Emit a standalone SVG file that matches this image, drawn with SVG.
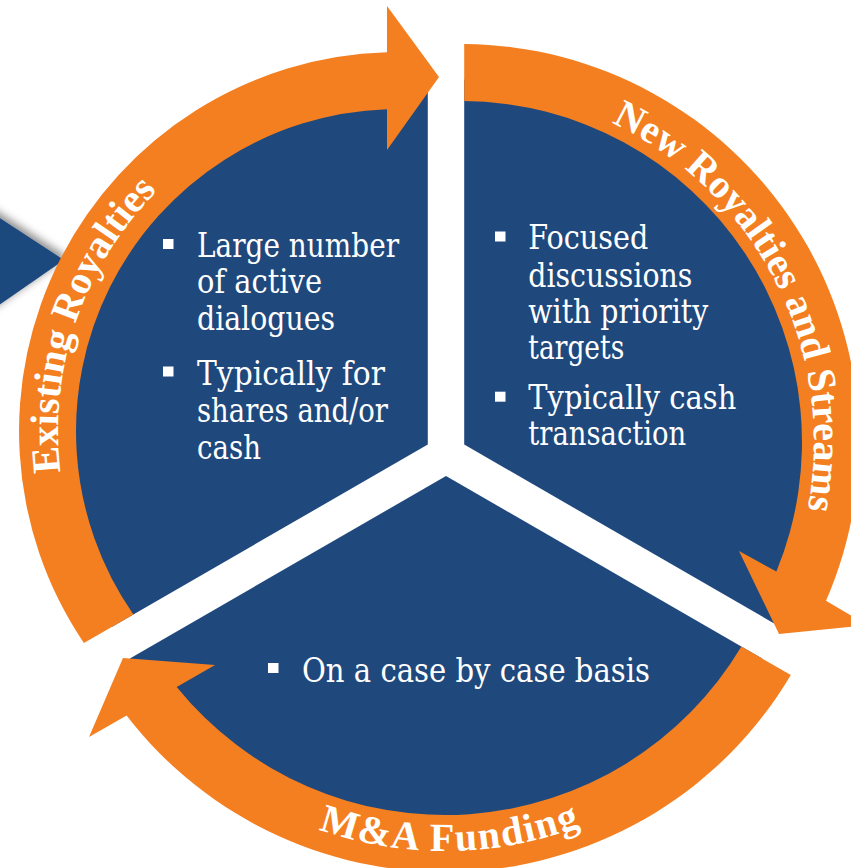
<svg xmlns="http://www.w3.org/2000/svg" width="851" height="868" viewBox="0 0 851 868">
<defs>
<style>
.sector{fill:#1F497D}
.arrow{fill:#F47F20}
.arc-label{font-family:'Liberation Serif','Times New Roman',serif;font-size:40px;font-weight:bold;fill:#ffffff}
.bullet{fill:#ffffff}
.txt{font-family:'DejaVu Serif',serif;font-size:33px;fill:#ffffff}
</style>
<filter id="shadow" x="-50%" y="-50%" width="200%" height="200%">
<feDropShadow dx="3" dy="-3" stdDeviation="4" flood-color="#000000" flood-opacity="0.45"/>
</filter>
<path id="p-existing" d="M141.4,654.1 A340,340 0 0 1 333.1,97.3" fill="none"/>
<path id="p-new" d="M418.9,91.5 A353,353 0 0 1 718.5,683.4" fill="none"/>
<path id="p-ma" d="M259.1,802.6 A381,381 0 0 0 640.1,797.3" fill="none"/>
</defs>
<rect width="851" height="868" fill="#ffffff"/>

<g id="partial-arrow">
<polygon class="sector" points="-40,192 64,260 -40,332" filter="url(#shadow)"/>
</g>

<g id="nodes">
<g id="node-existing">
<path class="sector" d="M427.8,444.5 L111.7,627 A365,365 0 0 1 427.8,79.5 Z"/>
<rect class="bullet" x="163" y="239" width="10.5" height="10"/>
<rect class="bullet" x="163" y="366.5" width="10.5" height="10"/>
<text class="txt" x="197" y="256.5" textLength="202" lengthAdjust="spacingAndGlyphs">Large number</text>
<text class="txt" x="197" y="293" textLength="125" lengthAdjust="spacingAndGlyphs">of active</text>
<text class="txt" x="197" y="329.5" textLength="138" lengthAdjust="spacingAndGlyphs">dialogues</text>
<text class="txt" x="197" y="385" textLength="188" lengthAdjust="spacingAndGlyphs">Typically for</text>
<text class="txt" x="197" y="421.5" textLength="191" lengthAdjust="spacingAndGlyphs">shares and/or</text>
<text class="txt" x="197" y="458.5" textLength="64" lengthAdjust="spacingAndGlyphs">cash</text>
</g>
<g id="node-new">
<path class="sector" d="M464.2,444.5 L464.2,79.5 A365,365 0 0 1 780.3,627 Z"/>
<rect class="bullet" x="495" y="231.5" width="10.5" height="10"/>
<rect class="bullet" x="495" y="391.7" width="10.5" height="10"/>
<text class="txt" x="528.3" y="249.3" textLength="120" lengthAdjust="spacingAndGlyphs">Focused</text>
<text class="txt" x="528.3" y="286.5" textLength="164" lengthAdjust="spacingAndGlyphs">discussions</text>
<text class="txt" x="528.3" y="323" textLength="180" lengthAdjust="spacingAndGlyphs">with priority</text>
<text class="txt" x="528.3" y="359.3" textLength="96" lengthAdjust="spacingAndGlyphs">targets</text>
<text class="txt" x="528.3" y="409.3" textLength="208" lengthAdjust="spacingAndGlyphs">Typically cash</text>
<text class="txt" x="528.3" y="445" textLength="158" lengthAdjust="spacingAndGlyphs">transaction</text>
</g>
<g id="node-ma">
<path class="sector" d="M446,476 L762.1,658.5 A365,365 0 0 1 129.9,658.5 Z"/>
<rect class="bullet" x="268" y="663" width="10.5" height="10"/>
<text class="txt" x="302" y="682" textLength="348" lengthAdjust="spacingAndGlyphs">On a case by case basis</text>
</g>
</g>

<g id="connectors">
<g id="arrow-existing">
<path class="arrow" d="M83.9,643.05 A379,379 0 0 1 387,52.2 L387,6 L439,77 L387,150 L387,109.2 A322,322 0 0 0 133.4,614.5 Z"/>
<text class="arc-label" text-anchor="middle"><textPath href="#p-existing" startOffset="50%">Existing Royalties</textPath></text>
</g>
<g id="arrow-new">
<path class="arrow" d="M464.2,44 A398,398 0 0 1 826,600.8 L867,625 L779,634 L739,551 L776.4,571.6 A341,341 0 0 0 464.2,101 Z"/>
<text class="arc-label" text-anchor="middle"><textPath href="#p-new" startOffset="50%">New Royalties and Streams</textPath></text>
</g>
<g id="arrow-ma">
<path class="arrow" d="M790.8,675.05 A402,402 0 0 1 126.6,715.5 L89,737 L123,658 L215,665 L176.7,686.9 A345,345 0 0 0 741.4,646.55 Z"/>
<text class="arc-label" text-anchor="middle" letter-spacing="1.5"><textPath href="#p-ma" startOffset="50%">M&amp;A Funding</textPath></text>
</g>
</g>
</svg>
